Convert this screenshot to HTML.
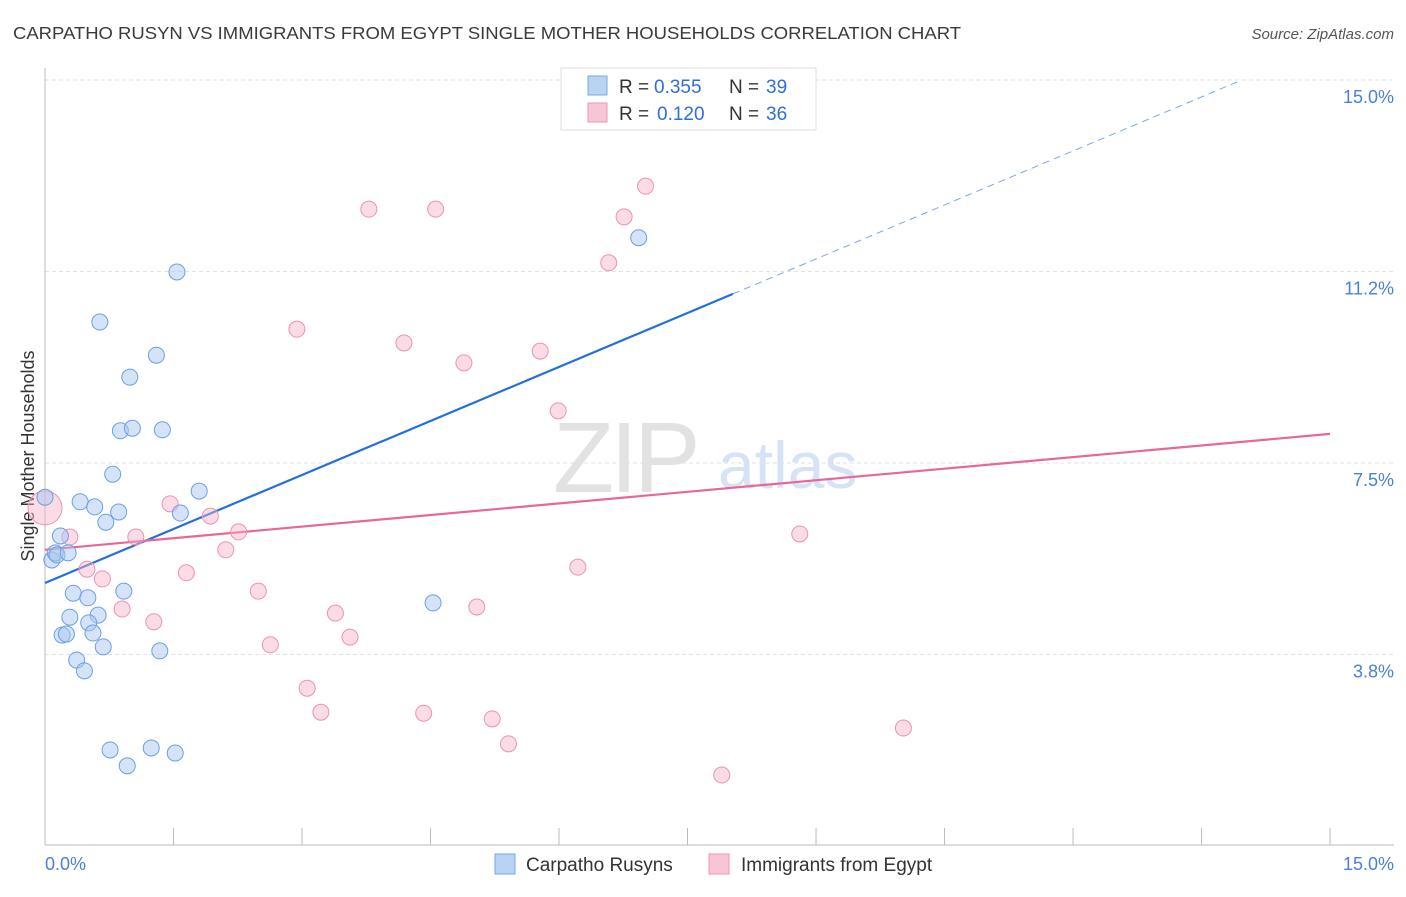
<!DOCTYPE html>
<html><head><meta charset="utf-8"><style>
body{margin:0;background:#fff;font-family:"Liberation Sans",sans-serif;}
svg text{font-family:"Liberation Sans",sans-serif;}
</style></head><body>
<svg id="chart" width="1406" height="892" viewBox="0 0 1406 892" xmlns="http://www.w3.org/2000/svg">
<text x="13" y="39" font-size="17.5" fill="#3a3a3a" textLength="948" lengthAdjust="spacingAndGlyphs">CARPATHO RUSYN VS IMMIGRANTS FROM EGYPT SINGLE MOTHER HOUSEHOLDS CORRELATION CHART</text>
<text x="1394" y="39" font-size="15" fill="#555" font-style="italic" text-anchor="end">Source: ZipAtlas.com</text>
<g id="grid"></g>
<g>
<text x="553" y="492" font-size="100" fill="#e2e2e2" font-family="Liberation Serif" letter-spacing="-4">ZIP</text>
<text x="718" y="488" font-size="66" fill="#d5e3f5">atlas</text>
</g>
<line x1="45" y1="845" x2="1394" y2="845" stroke="#bbb"/>
<line x1="45" y1="68" x2="45" y2="845" stroke="#bbb"/>
<g id="ticks"></g>
<text transform="translate(34,456) rotate(-90)" font-size="18" fill="#333" text-anchor="middle">Single Mother Households</text>
<text x="45" y="870" font-size="18" fill="#4a80d8">0.0%</text>
<text x="1394" y="870" font-size="18" fill="#4a80d8" text-anchor="end">15.0%</text>
<g id="lines"></g>
<g id="points"></g>
<g>
<rect x="561" y="68" width="255" height="62" fill="#fff" stroke="#ddd"/>
<rect x="588" y="76" width="19" height="19" fill="#b9d3f5" stroke="#7aa7e3"/>
<text x="619" y="93" font-size="19" fill="#333">R =</text>
<text x="654" y="93" font-size="19" fill="#2f6fd6">0.355</text>
<text x="729" y="93" font-size="19" fill="#333">N =</text>
<text x="766" y="93" font-size="19" fill="#2f6fd6">39</text>
<rect x="588" y="103" width="19" height="19" fill="#f9c5d5" stroke="#ea98b3"/>
<text x="619" y="120" font-size="19" fill="#333">R =</text>
<text x="657" y="120" font-size="19" fill="#2f6fd6">0.120</text>
<text x="729" y="120" font-size="19" fill="#333">N =</text>
<text x="766" y="120" font-size="19" fill="#2f6fd6">36</text>
</g>
<g>
<rect x="495" y="854" width="20" height="20" fill="#b9d3f5" stroke="#7aa7e3"/>
<text x="526" y="871" font-size="19" fill="#333">Carpatho Rusyns</text>
<rect x="709" y="854" width="20" height="20" fill="#f9c5d5" stroke="#ea98b3"/>
<text x="741" y="871" font-size="19" fill="#333">Immigrants from Egypt</text>
</g>
</svg>
<script>
const yTicks=[3.75,7.5,11.25,15];
const yTickLabels=["3.8%","7.5%","11.2%","15.0%"];
const xTicks=[0,1.5,3,4.5,6,7.5,9,10.5,12,13.5,15];
const blueX=[0,0.08,0.12,0.14,0.18,0.27,0.41,0.58,0.71,0.86,0.79,0.64,0.99,1.30,0.88,1.02,1.37,1.54,1.80,1.58,0.33,0.50,0.29,0.62,0.92,0.51,0.56,0.20,0.25,0.68,0.37,0.46,1.34,0.76,0.96,1.24,1.52,4.53,6.93];
const blueY=[6.83,5.60,5.74,5.70,6.07,5.74,6.74,6.64,6.34,6.54,7.28,10.26,9.18,9.61,8.13,8.18,8.15,11.24,6.95,6.52,4.95,4.86,4.48,4.52,4.99,4.37,4.17,4.13,4.15,3.90,3.64,3.43,3.82,1.88,1.57,1.92,1.82,4.76,11.91];
const pinkX=[0,0.29,0.49,0.67,0.90,1.06,1.27,1.46,1.65,1.93,2.11,2.26,2.49,2.63,2.94,3.06,3.22,3.39,3.56,3.78,4.19,4.42,4.56,4.89,5.04,5.22,5.41,5.78,5.99,6.22,6.58,6.76,7.01,7.90,8.81,10.02];
const pinkY=[6.62,6.05,5.42,5.23,4.64,6.05,4.39,6.70,5.35,6.46,5.80,6.15,4.99,3.94,10.12,3.09,2.62,4.56,4.09,12.47,9.85,2.60,12.47,9.46,4.68,2.49,2.00,9.69,8.52,5.46,11.42,12.32,12.92,1.39,6.11,2.31];
const blueFit=[5.15,0.705];
const blueSolidEnd=8.03;
const pinkFit=[5.80,0.1513];
const NS="http://www.w3.org/2000/svg";
const X=v=>45+v*85.67, Y=v=>846-v*51.07;
function mk(tag,attrs,parent){const e=document.createElementNS(NS,tag);for(const k in attrs)e.setAttribute(k,attrs[k]);parent.appendChild(e);return e;}
const grid=document.getElementById('grid');
yTicks.forEach((t,i)=>{
 const l=mk('line',{x1:45,x2:1394,y1:Y(t),y2:Y(t),stroke:'#e2e2e2','stroke-dasharray':'4,3'},grid);
 
 
 const tx=mk('text',{x:1394,y:Y(t)+23,'font-size':18,fill:'#4a80d8','text-anchor':'end'},grid);
 tx.textContent=yTickLabels[i];
 
 
});
const ticks=document.getElementById('ticks');
xTicks.forEach(t=>{
 const l=mk('line',{x1:X(t),x2:X(t),y1:828,y2:845,stroke:'#bbb'},ticks);
 
 
});
const lines=document.getElementById('lines');
let l1=mk('line',{x1:X(0),y1:Y(blueFit[0]),x2:X(blueSolidEnd),y2:Y(blueFit[0]+blueFit[1]*blueSolidEnd),stroke:'#2470d8','stroke-width':2.2},lines);


const xEnd=(15-blueFit[0])/blueFit[1];
let l2=mk('line',{x1:X(blueSolidEnd),y1:Y(blueFit[0]+blueFit[1]*blueSolidEnd),x2:X(xEnd),y2:Y(15),stroke:'#7aa7e3','stroke-width':1,'stroke-dasharray':'7,5'},lines);


let l3=mk('line',{x1:X(0),y1:Y(pinkFit[0]),x2:X(15),y2:Y(pinkFit[0]+pinkFit[1]*15),stroke:'#e8679a','stroke-width':2.2},lines);


const pts=document.getElementById('points');
pinkX.forEach((x,i)=>{
 const c=mk('circle',{cx:X(x),cy:Y(pinkY[i]),r:i===0?17:8,fill:'rgba(246,176,200,0.45)',stroke:'#e994b2','stroke-width':1},pts);
 
 
});
blueX.forEach((x,i)=>{
 const c=mk('circle',{cx:X(x),cy:Y(blueY[i]),r:8,fill:'rgba(169,200,240,0.5)',stroke:'#6d9fe0','stroke-width':1},pts);
 
 
});
</script>
</body></html>
